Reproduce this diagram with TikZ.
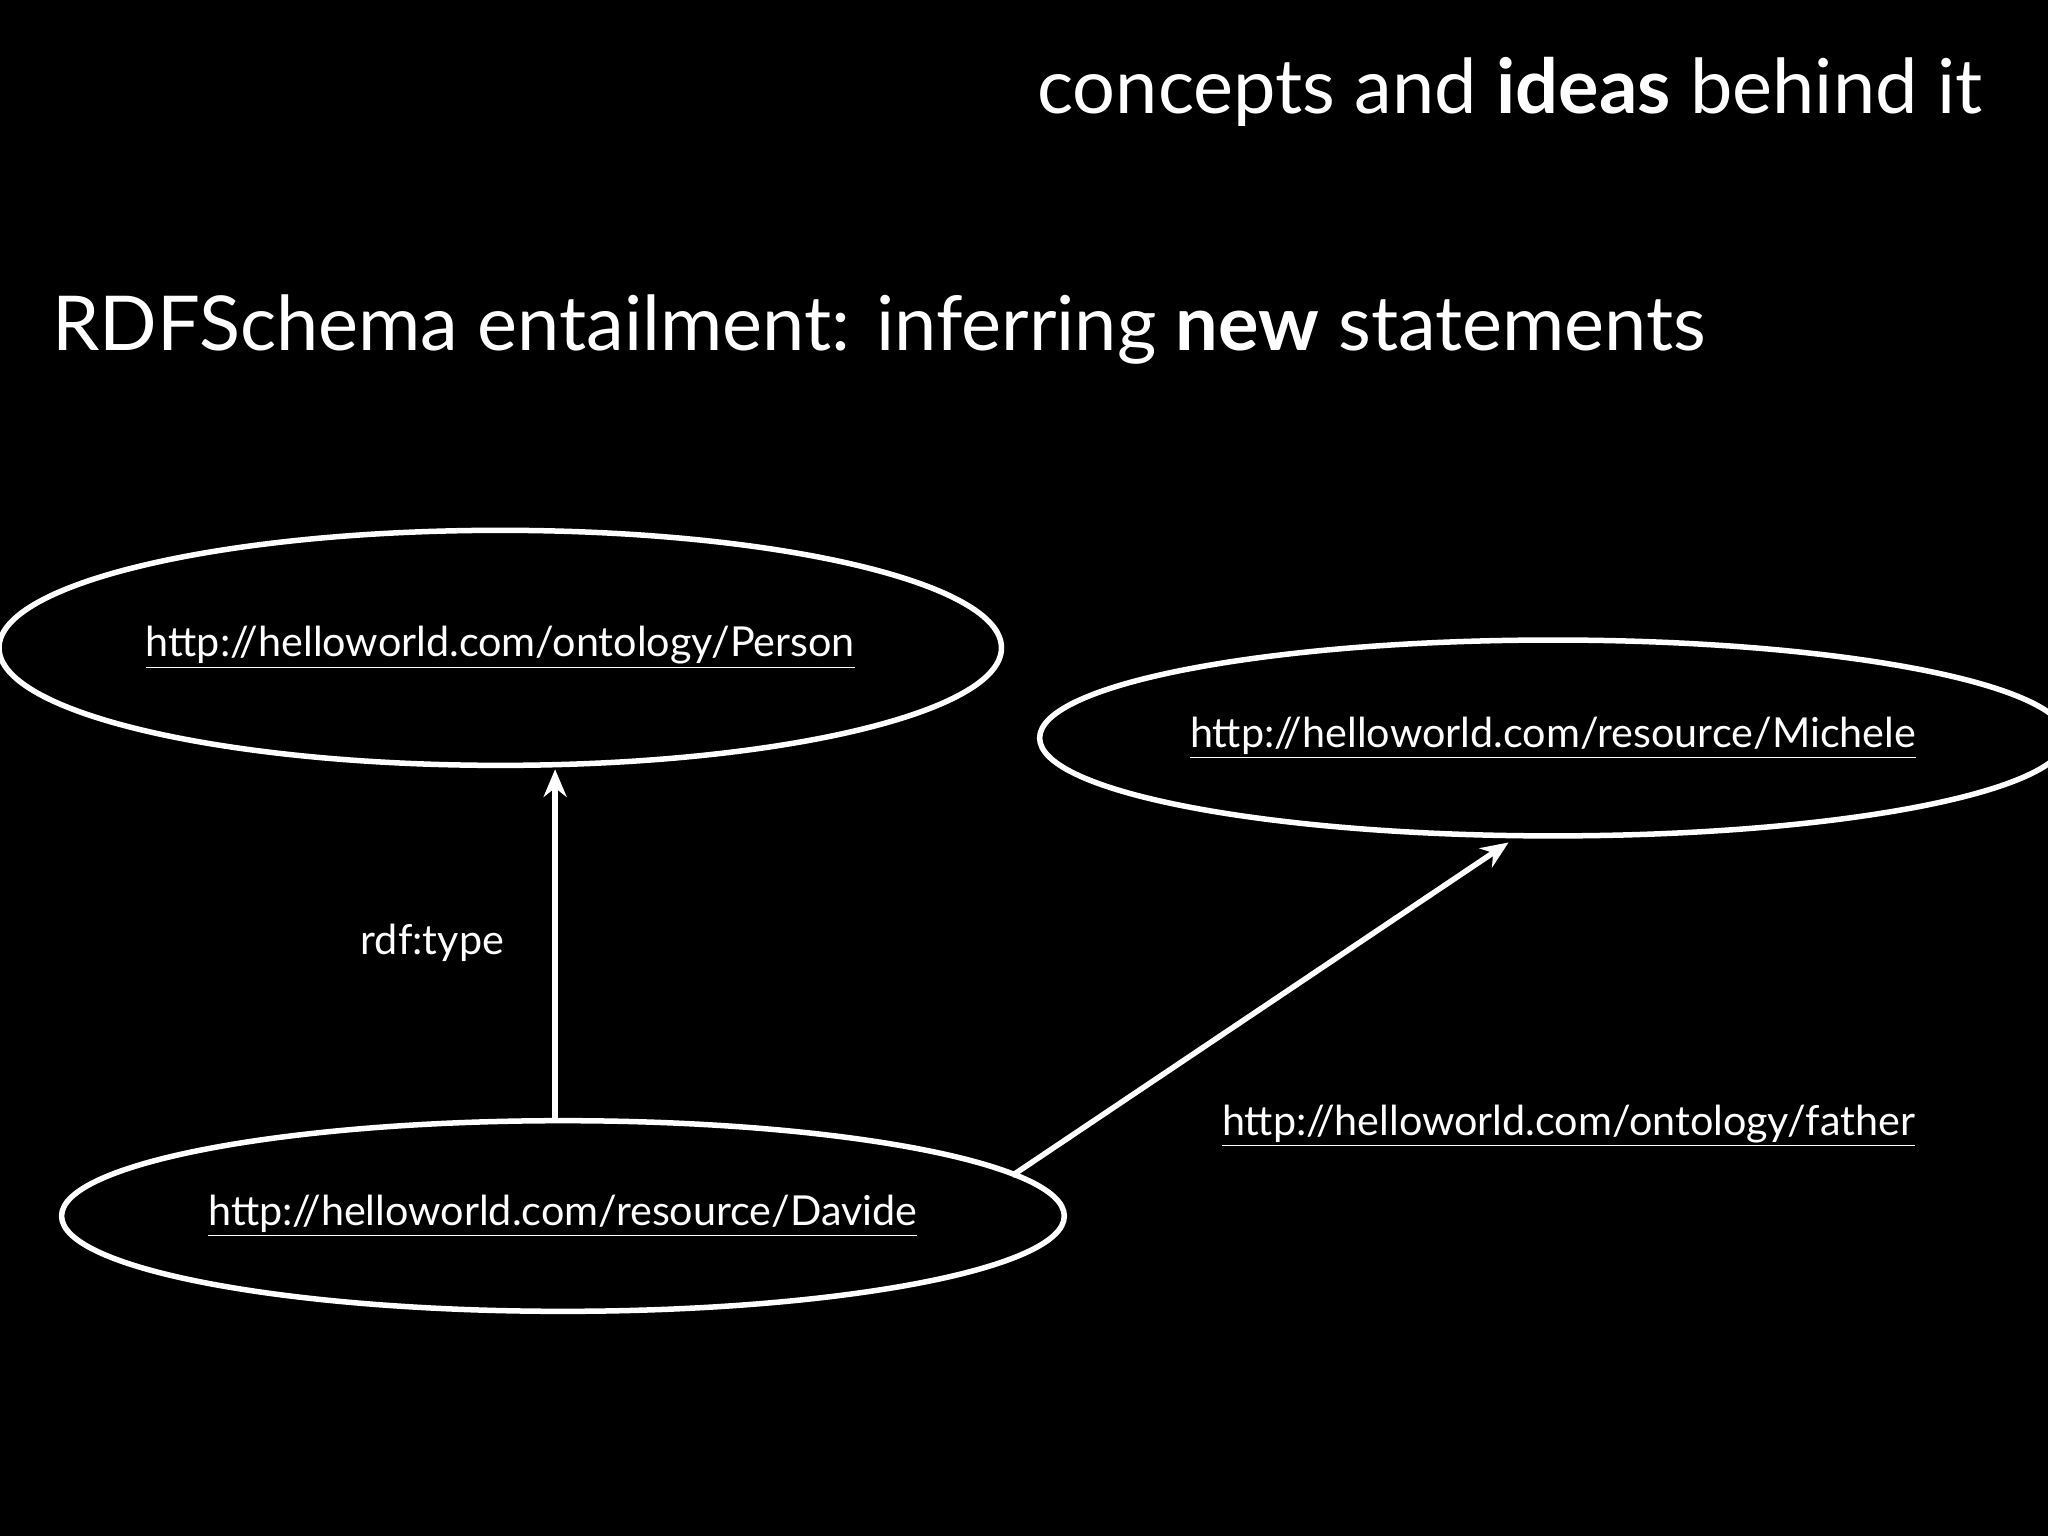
\documentclass[tikz,border=0pt]{standalone}
\usepackage{fontspec}
\setmainfont{Lato}
\usetikzlibrary{shapes.geometric,arrows.meta}
\begin{document}
\begin{tikzpicture}[x=0.02cm,y=-0.02cm,
  every node/.style={text=white},
  ell/.style={ellipse,draw=white,line width=2.4pt,inner sep=0pt,font=\fontsize{18}{20}\selectfont},
  lbl/.style={font=\fontsize{18}{20}\selectfont},
  conn/.style={draw=white,line width=2.4pt,-{Stealth[length=12pt,width=10pt]}}]
\fill[black] (0,0) rectangle (1568,1176);
\useasboundingbox (0,0) rectangle (1568,1176);
\node[anchor=east,font=\fontsize{33}{36}\selectfont] (t1) at (1524,70) {concepts and \textbf{ideas} behind it};
\node[anchor=west,font=\fontsize{33}{36}\selectfont] (t2) at (34,252) {RDFSchema entailment: inferring \textbf{new} statements};
\node[ell,minimum width=13.84cm,minimum height=3.6cm] (per) at (383,496) {\underline{http://helloworld.com/ontology/Person}};
\node[ell,minimum width=14.48cm,minimum height=3.0cm] (mic) at (1189,565) {\underline{http://helloworld.com/resource/Michele}};
\node[ell,minimum width=14.92cm,minimum height=2.92cm] (dav) at (431,931) {\underline{http://helloworld.com/resource/Davide}};
\coordinate (a0) at (425,858);
\coordinate (a1) at (425,589);
\coordinate (b0) at (775,900);
\coordinate (b1) at (1155,645);
\draw[conn] (a0) -- (a1);
\draw[conn] (b0) -- (b1);
\node[lbl] (l1) at (331,722) {rdf:type};
\node[lbl] (l2) at (1201,862) {\underline{http://helloworld.com/ontology/father}};
\end{tikzpicture}
\end{document}
